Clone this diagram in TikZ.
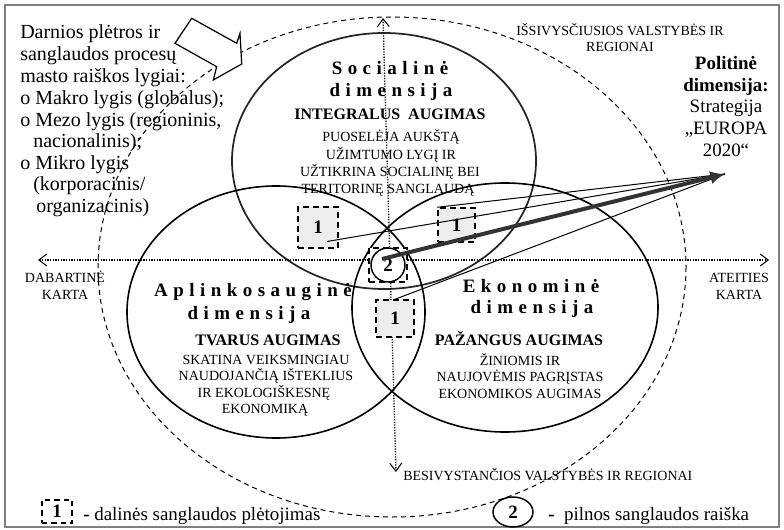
\documentclass[tikz,border=0pt]{standalone}
\usepackage{fontspec}
\setmainfont{Liberation Serif}
\newfontfamily\spacedfont[LetterSpace=29]{Liberation Serif}
\usetikzlibrary{arrows.meta,calc,shapes.geometric}
\newcommand\Fbig{\fontsize{14.2pt}{16pt}\selectfont}
\newcommand\Flft{\fontsize{15pt}{17pt}\selectfont}
\newcommand\Fmid{\fontsize{12pt}{14pt}\selectfont}
\newcommand\Fsml{\fontsize{10.5pt}{12pt}\selectfont}
\begin{document}
\begin{tikzpicture}[x=0.75pt,y=-0.75pt,
  txt/.style={inner sep=0pt, anchor=base},
  txtl/.style={inner sep=0pt, anchor=base west},
  bigtxt/.style={txtl, font=\Fbig},
  lefttxt/.style={txtl, font=\Flft},
  headtxt/.style={txt, font=\spacedfont\bfseries\Fbig},
  subtxt/.style={txt, font=\bfseries\Fmid},
  desctxt/.style={txt, font=\Fsml},
  frame/.style={draw=black!50, line width=1.1pt},
  solidell/.style={line width=1.2pt},
  socell/.style={draw=black!85, line width=1.3pt},
  dashell/.style={line width=0.75pt, dash pattern=on 3.75pt off 3pt},
  axisline/.style={line width=1pt, dash pattern=on 0.9pt off 1.1pt,
    {Straight Barb[length=6pt,width=9pt,line width=0.75pt]}-{Straight Barb[length=6pt,width=9pt,line width=0.75pt]}},
  onebox/.style={draw, line width=1.1pt, dash pattern=on 4.5pt off 3pt, fill=black!7,
    inner sep=0pt, font=\Fbig\bfseries},
  conn/.style={line width=0.75pt},
  thickconn/.style={line width=3pt, draw=black!80, -{Latex[length=11pt,width=10pt]}}
]
\useasboundingbox (0,0) rectangle (784,530);
\draw[frame] (5,5) rectangle (779,527);

% ellipses
\draw[dashell] (392,267) ellipse [x radius=294, y radius=250];
\draw[socell] (384,161) ellipse [x radius=152, y radius=128];
\draw[solidell] (276,312) ellipse [x radius=149, y radius=126];
\draw[solidell] (505,307.5) ellipse [x radius=153, y radius=124.5];

% axes
\coordinate (vtop) at (383,18);
\coordinate (vbot) at (396,472);
\coordinate (hleft) at (38,260);
\coordinate (hright) at (769,260);
\draw[axisline] (hleft) -- (hright);
\draw[axisline] (vtop) -- (vbot);

% hollow block arrow
\draw[line width=0.9pt, fill=white, line join=miter]
  (191.7,18.3) -- (236.7,43.3) -- (240,33.3) -- (241.7,64) -- (213.3,80)
  -- (216.7,66.7) -- (175,43.3) -- cycle;

% boxes
\node[onebox, minimum width=30pt, minimum height=30.75pt] (bA) at (318,227.5) {1};
\node[onebox, minimum width=27.75pt, minimum height=25.5pt] (bB) at (456.5,225) {1};
\node[onebox, minimum width=28.5pt, minimum height=27.75pt] (bC) at (395,318.5) {1};
\node[draw, line width=1.1pt, dash pattern=on 4.5pt off 3pt, fill=white,
  minimum width=28.5pt, minimum height=25.5pt, inner sep=0pt] (bD) at (388,265) {};
\node[draw, circle, line width=1.1pt, fill=white, minimum size=25.5pt, inner sep=0pt,
  font=\Fbig\bfseries] (c2) at (388,265) {2};

% connectors
\coordinate (tip) at (725,174);
\draw[conn] ($(bA.center)+(9,14)$) -- (tip);
\draw[conn] (bB.north west) -- (tip);
\draw[conn] (bC.north) -- (tip);
\draw[thickconn] ($(c2.center)+(-6,-6)$) -- (tip);

% left text
\node[lefttxt] (l1) at (20,39) {Darnios plėtros ir};
\node[lefttxt] (l2) at (20,61) {sanglaudos procesų};
\node[lefttxt] (l3) at (20,83) {masto raiškos lygiai:};
\node[lefttxt] (l4) at (20,105) {o Makro lygis (globalus);};
\node[lefttxt] (l5) at (20,127) {o Mezo lygis (regioninis,};
\node[lefttxt] (l6) at (33,148) {nacionalinis);};
\node[lefttxt] (l7) at (20,170) {o Mikro lygis};
\node[lefttxt] (l8) at (33,191) {(korporacinis/};
\node[lefttxt] (l9) at (36,213) {organizacinis)};

% political
\node[txt, font=\Fbig\bfseries] (p1) at (726,70) {Politinė};
\node[txt, font=\Fbig\bfseries] (p2) at (726,92) {dimensija:};
\node[txt, font=\Fbig] (p3) at (726,113) {Strategija};
\node[txt, font=\Fbig] (p4) at (726,135) {„EUROPA};
\node[txt, font=\Fbig] (p5) at (726,157) {2020“};

% axis labels
\node[desctxt] (t1) at (620,35.5) {IŠSIVYSČIUSIOS VALSTYBĖS IR};
\node[desctxt] (t2) at (620,52) {REGIONAI};
\node[desctxt] (d1) at (65,283) {DABARTINĖ};
\node[desctxt] (d2) at (65,300) {KARTA};
\node[desctxt] (a1) at (739,283) {ATEITIES};
\node[desctxt] (a2) at (739,300) {KARTA};
\node[txtl, font=\Fsml] (b1) at (403,480) {BESIVYSTANČIOS VALSTYBĖS IR REGIONAI};

% social
\node[headtxt] (s1) at (390,75) {Socialinė};
\node[headtxt] (s2) at (391,97) {dimensija};
\node[subtxt] (s3) at (390,120) {INTEGRALUS\ \ AUGIMAS};
\node[desctxt] (s4) at (391,142) {PUOSELĖJA AUKŠTĄ};
\node[desctxt] (s5) at (391,159.5) {UŽIMTUMO LYGĮ IR};
\node[desctxt] (s6) at (390,176.5) {UŽTIKRINA SOCIALINĘ BEI};
\node[desctxt] (s7) at (388,193.5) {TERITORINĘ SANGLAUDĄ};

% environmental
\node[headtxt] (e1) at (253,297) {Aplinkosauginė};
\node[headtxt] (e2) at (249,320) {dimensija};
\node[subtxt] (e3) at (268,345) {TVARUS AUGIMAS};
\node[desctxt] (e4) at (266,364) {SKATINA VEIKSMINGIAU};
\node[desctxt] (e5) at (266,380.5) {NAUDOJANČIĄ IŠTEKLIUS};
\node[desctxt] (e6) at (264,397) {IR EKOLOGIŠKESNĘ};
\node[desctxt] (e7) at (265,413) {EKONOMIKĄ};

% economic
\node[headtxt] (k1) at (531,293) {Ekonominė};
\node[headtxt] (k2) at (532,314) {dimensija};
\node[subtxt] (k3) at (519,346) {PAŽANGUS AUGIMAS};
\node[desctxt] (k4) at (520,365) {ŽINIOMIS IR};
\node[desctxt] (k5) at (520,382) {NAUJOVĖMIS PAGRĮSTAS};
\node[desctxt] (k6) at (520,398) {EKONOMIKOS AUGIMAS};

% legend
\node[draw, line width=1.1pt, dash pattern=on 4pt off 3pt, inner sep=0pt,
  minimum width=22.5pt, minimum height=17.25pt, font=\Fbig\bfseries] (lg1) at (57,511.5) {1};
\node[bigtxt] (lg1t) at (83,520) {\textbf{-} dalinės sanglaudos plėtojimas};
\node[draw, ellipse, line width=1.1pt, minimum width=30pt, minimum height=22.5pt,
  inner sep=0pt, font=\Fbig\bfseries] (lg2) at (513,512) {2};
\node[bigtxt] (lg2t) at (548,520) {\textbf{-}\ \ pilnos sanglaudos raiška};
\end{tikzpicture}
\end{document}
